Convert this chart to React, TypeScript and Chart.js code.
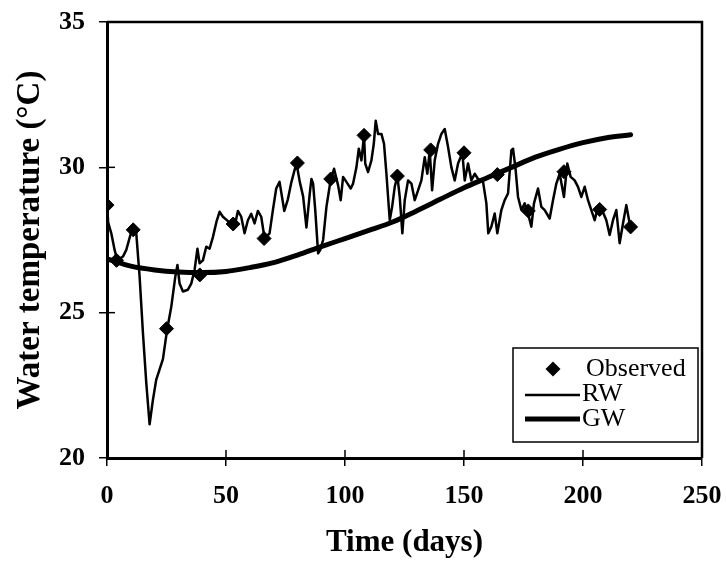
import { useEffect, useRef } from "react";
import { Chart, registerables } from "chart.js";

Chart.register(...registerables);

// ---------- data ----------
const obsDays = [0, 4, 11, 25, 39, 53, 66, 80, 94, 108, 122, 136, 150, 164, 177, 192, 207, 220];
const obsTemps = [28.7, 26.8, 27.85, 24.45, 26.3, 28.05, 27.55, 30.15, 29.6, 31.1, 29.7, 30.6, 30.5, 29.75, 28.5, 29.85, 28.55, 27.95];

const rwDays = [
  0, 0.5, 1.8, 3.2, 4.3, 6.7, 8.1, 10.5, 12.3, 13.7, 15.1, 16.5, 17.9, 19.3, 20.7, 22.1, 23.5, 25.3, 27, 28.7,
  29.6, 30.5, 31.9, 34, 35.4, 36.8, 38, 38.9, 40.3, 41.7, 43.1, 44.5, 46, 47.3, 48.7, 50.1, 52.2, 53.6, 55, 56.4,
  57.8, 59.2, 60.6, 62, 63.4, 64.8, 66.2, 68.3, 69.7, 71.1, 72.5, 74.5, 76, 77.5, 79.6, 81, 82.4, 83.8, 85.2, 85.9,
  86.6, 87.5, 88.7, 89.6, 90.8, 92.2, 94, 95.4, 97.1, 98.2, 99.2, 100.6, 102.4, 103.4, 104.8, 105.8, 106.9, 108, 108.5, 109.7,
  111.1, 112.1, 112.9, 113.9, 115.3, 116.4, 117.4, 118.8, 119.8, 120.9, 122, 123, 124.1, 125.1, 126.5, 127.9, 129.3, 130.7, 132.1, 133.5,
  134.6, 135.6, 136.6, 137.7, 139.1, 140.5, 141.9, 143.3, 144.7, 146.1, 147.5, 149.3, 150.3, 151.7, 153.1, 154.5, 155.9, 158, 159.4, 160.2,
  161.5, 162.9, 164, 165.7, 167.1, 168.5, 169.9, 170.6, 171.6, 172.7, 174.1, 175.5, 176.9, 178.3, 179.4, 181.1, 182.5, 183.9, 186, 187.4,
  188.8, 190.2, 192, 193.4, 194.8, 196.5, 197.9, 199.3, 200.7, 202.1, 203.5, 204.9, 206.3, 208, 209.8, 211.2, 212.6, 214, 215.4, 216.8,
  218.2, 219.6, 220.3,
];
const rwTemps = [
  28.76, 28.1, 27.73, 27.16, 26.8, 26.93, 27.16, 27.87, 27.73, 26.24, 24.3, 22.59, 21.16, 22.0, 22.7, 23.05, 23.4, 24.44, 25.2, 26.24,
  26.64, 26.0, 25.73, 25.79, 26.0, 26.47, 27.2, 26.7, 26.8, 27.27, 27.2, 27.6, 28.13, 28.47, 28.3, 28.2, 28.05, 27.96, 28.5, 28.3,
  27.73, 28.18, 28.4, 28.07, 28.5, 28.3, 27.56, 27.73, 28.53, 29.27, 29.5, 28.5, 28.9, 29.5, 30.15, 29.5, 29.0, 27.93, 29.1, 29.6,
  29.44, 28.53, 27.04, 27.16, 27.5, 28.64, 29.58, 29.95, 29.38, 28.87, 29.67, 29.5, 29.27, 29.44, 30.0, 30.64, 30.24, 31.1, 30.13, 29.84,
  30.24, 30.81, 31.6, 31.15, 31.15, 30.81, 29.78, 28.18, 28.64, 29.33, 29.7, 28.98, 27.73, 28.87, 29.55, 29.44, 28.87, 29.21, 29.55, 30.35,
  29.78, 30.58, 29.21, 30.24, 30.81, 31.15, 31.32, 30.7, 30.0, 29.55, 30.13, 30.49, 29.55, 30.13, 29.55, 29.78, 29.6, 29.5, 28.76, 27.73,
  27.96, 28.41, 27.73, 28.53, 28.87, 29.1, 30.58, 30.64, 30.0, 28.98, 28.53, 28.76, 28.41, 27.96, 28.76, 29.27, 28.64, 28.53, 28.24, 28.87,
  29.44, 29.78, 28.98, 30.13, 29.67, 29.55, 29.33, 28.98, 29.33, 28.87, 28.53, 28.18, 28.64, 28.53, 28.18, 27.67, 28.18, 28.53, 27.39, 28.07,
  28.7, 28.07, 27.96,
];

const gwDays = [0, 10, 20, 30, 40, 50, 60, 70, 80, 90, 100, 110, 120, 130, 140, 150, 160, 170, 180, 190, 200, 210, 220];
const gwTemps = [26.85, 26.6, 26.47, 26.4, 26.38, 26.42, 26.55, 26.72, 26.98, 27.27, 27.55, 27.83, 28.12, 28.5, 28.9, 29.3, 29.65, 30.0, 30.35, 30.62, 30.85, 31.02, 31.12];

const xTicks = [0, 50, 100, 150, 200, 250];
const yTicks = [20, 25, 30, 35];
const xTitle = "Time (days)";
const yTitle = "Water temperature (°C)";
const legendLabels = ["Observed", "RW", "GW"];

const SERIF = "'Liberation Serif', 'Times New Roman', Times, serif";

const toXY = (xs: number[], ys: number[]) => xs.map((x, i) => ({ x, y: ys[i] }));

const framePlugin = {
  id: "frameAndLegend",
  afterDatasetsDraw(chart: any) {
    const { ctx, chartArea, scales } = chart;
    const { left, right, top, bottom } = chartArea;
    ctx.save();
    ctx.strokeStyle = "#000";
    ctx.fillStyle = "#000";
    // top & right frame
    ctx.lineWidth = 2.5;
    ctx.beginPath();
    ctx.moveTo(left, top);
    ctx.lineTo(right, top);
    ctx.lineTo(right, bottom);
    ctx.stroke();
    // inner tick marks
    ctx.lineWidth = 1.5;
    for (const v of xTicks) {
      const px = scales.x.getPixelForValue(v);
      ctx.beginPath();
      ctx.moveTo(px, bottom);
      ctx.lineTo(px, bottom - 8);
      ctx.stroke();
    }
    for (const v of yTicks) {
      const py = scales.y.getPixelForValue(v);
      ctx.beginPath();
      ctx.moveTo(left, py);
      ctx.lineTo(left + 8, py);
      ctx.stroke();
    }
    // legend box
    const bx = right - 189;
    const by = bottom - 110;
    const bw = 185;
    const bh = 94;
    ctx.fillStyle = "#fff";
    ctx.fillRect(bx, by, bw, bh);
    ctx.lineWidth = 1.5;
    ctx.strokeRect(bx, by, bw, bh);
    ctx.fillStyle = "#000";
    // diamond
    const dx = bx + 40;
    const dy = by + 21;
    const r = 7.5;
    ctx.beginPath();
    ctx.moveTo(dx, dy - r);
    ctx.lineTo(dx + r, dy);
    ctx.lineTo(dx, dy + r);
    ctx.lineTo(dx - r, dy);
    ctx.closePath();
    ctx.fill();
    // lines
    ctx.lineWidth = 2.5;
    ctx.beginPath();
    ctx.moveTo(bx + 12, by + 47);
    ctx.lineTo(bx + 67, by + 47);
    ctx.stroke();
    ctx.lineWidth = 5;
    ctx.beginPath();
    ctx.moveTo(bx + 12, by + 71);
    ctx.lineTo(bx + 67, by + 71);
    ctx.stroke();
    ctx.font = `26px ${SERIF}`;
    ctx.textBaseline = "middle";
    ctx.textAlign = "left";
    ctx.fillText(legendLabels[0], bx + 73, by + 21);
    ctx.fillText(legendLabels[1], bx + 69, by + 46);
    ctx.fillText(legendLabels[2], bx + 69, by + 71);
    ctx.restore();
  },
};

export default function App() {
  const ref = useRef<HTMLCanvasElement | null>(null);
  useEffect(() => {
    if (!ref.current) return;
    const tickFont = { family: SERIF, size: 26, weight: "bold" as const };
    const xTitleFont = { family: SERIF, size: 31, weight: "bold" as const };
    const yTitleFont = { family: SERIF, size: 33, weight: "bold" as const };
    const chart = new Chart(ref.current, {
      type: "scatter",
      data: {
        datasets: [
          {
            label: legendLabels[0],
            data: toXY(obsDays, obsTemps),
            showLine: false,
            pointStyle: "rectRot",
            pointRadius: 7,
            backgroundColor: "#000",
            borderColor: "#000",
            borderWidth: 1,
          },
          {
            label: legendLabels[1],
            data: toXY(rwDays, rwTemps),
            showLine: true,
            pointRadius: 0,
            borderColor: "#000",
            borderWidth: 2.5,
            borderJoinStyle: "round",
            tension: 0,
          },
          {
            label: legendLabels[2],
            data: toXY(gwDays, gwTemps),
            showLine: true,
            pointRadius: 0,
            borderColor: "#000",
            borderWidth: 5,
            borderCapStyle: "round",
            cubicInterpolationMode: "monotone",
          },
        ],
      },
      options: {
        animation: false,
        responsive: false,
        layout: { padding: { top: 22, right: 24, left: 0, bottom: 0 } },
        plugins: { legend: { display: false }, tooltip: { enabled: false } },
        scales: {
          x: {
            type: "linear",
            min: 0,
            max: 250,
            afterFit: (s: any) => {
              s.height = 104;
              s.paddingLeft = 0;
              s.paddingRight = 0;
            },
            afterBuildTicks: (s: any) => {
              s.ticks = xTicks.map((v) => ({ value: v }));
            },
            ticks: { font: tickFont, color: "#000", padding: 15, maxRotation: 0 },
            grid: { drawOnChartArea: false, drawTicks: true, tickLength: 8, color: "#000", lineWidth: 1.5 },
            border: { color: "#000", width: 3 },
            title: { display: true, text: xTitle, font: xTitleFont, color: "#000", padding: { top: 0, bottom: 0 } },
          },
          y: {
            type: "linear",
            min: 20,
            max: 35,
            afterFit: (s: any) => {
              s.width = 107;
              s.paddingTop = 0;
              s.paddingBottom = 0;
            },
            afterBuildTicks: (s: any) => {
              s.ticks = yTicks.map((v) => ({ value: v }));
            },
            ticks: { font: tickFont, color: "#000", padding: 14 },
            grid: { drawOnChartArea: false, drawTicks: true, tickLength: 8, color: "#000", lineWidth: 1.5 },
            border: { color: "#000", width: 3 },
            title: { display: true, text: yTitle, font: yTitleFont, color: "#000", padding: { top: 11, bottom: 0 } },
          },
        },
      },
      plugins: [framePlugin],
    } as any);
    return () => chart.destroy();
  }, []);
  return (
    <div style={{ position: "absolute", left: 0, top: 0, width: 726, height: 562, background: "#fff" }}>
      <canvas ref={ref} width={726} height={562} style={{ display: "block", width: 726, height: 562 }} />
    </div>
  );
}
